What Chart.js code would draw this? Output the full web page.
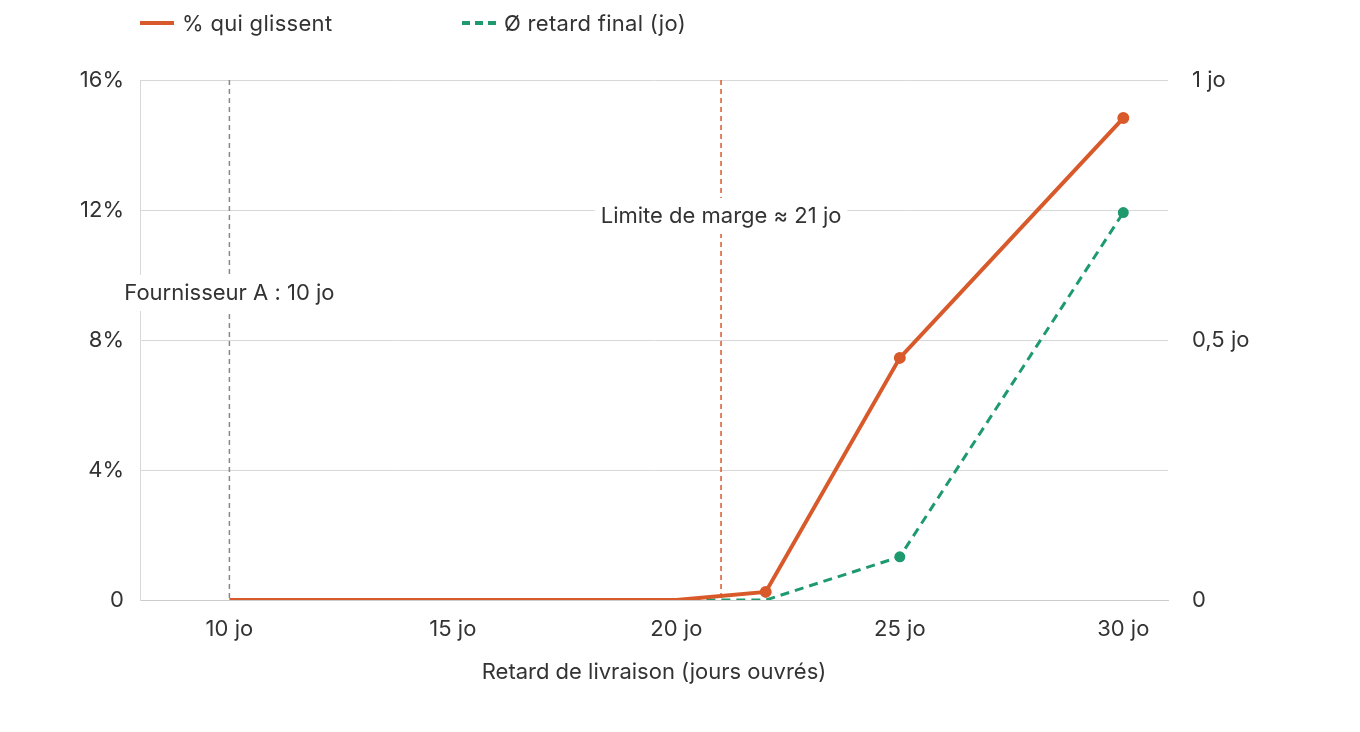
<!DOCTYPE html>
<html><head><meta charset="utf-8">
<script src="https://cdn.jsdelivr.net/npm/chart.js"></script>
<style>
body{margin:0;background:#fff;font-family:Inter,"Noto Sans",sans-serif;}
#wrap{position:absolute;left:0;top:0;width:1360px;height:732px;}
.lg{position:absolute;top:10px;font-size:22px;color:#333;display:flex;align-items:center;letter-spacing:0.3px;}
.lg span.l{display:inline-block;width:34px;height:0;margin-right:8px;}
</style></head><body>
<div id="wrap"><canvas id="c" width="1360" height="732"></canvas></div>
<div class="lg" style="left:140px"><span class="l" style="border-top:4px solid #d85a2b"></span>% qui glissent</div>
<div class="lg" style="left:462px"><span class="l" style="border-top:4px dashed #1e9a6e"></span>Ø retard final (jo)</div>
<script>
const xDays=[10,20,22,25,30];
const pctSlip=[0,0,0.25,7.45,14.83];
const xDaysDelay=[20,22,25,30];
const finalDelay=[0,0,0.083,0.745];
const leftTicks=[0,4,8,12,16];
const rightTicks=[0,0.5,1];
const vlines=[{x:10,label:'Fournisseur A : 10 jo',color:'#888',ly:293},{x:21,label:'Limite de marge ≈ 21 jo',color:'#d85a2b',ly:216}];
const FONT="Inter, 'Noto Sans', sans-serif";
const FS=22;
const vplug={id:'v',beforeDatasetsDraw(ch){const c=ch.ctx,xs=ch.scales.x,a=ch.chartArea;
 vlines.forEach(v=>{const px=xs.getPixelForValue(v.x);c.save();c.strokeStyle=v.color;c.lineWidth=1.5;c.setLineDash([5,4]);
 c.beginPath();c.moveTo(px,a.top);c.lineTo(px,a.bottom);c.stroke();c.setLineDash([]);
 c.font=FS+'px '+FONT;const w=c.measureText(v.label).width;c.fillStyle='#fff';c.fillRect(px-w/2-6,v.ly-18,w+12,36);
 c.fillStyle='#333';c.textAlign='center';c.textBaseline='middle';c.fillText(v.label,px,v.ly);c.restore();});}};
new Chart(document.getElementById('c'),{type:'line',
data:{datasets:[
{data:xDays.map((x,i)=>({x,y:pctSlip[i]})),borderColor:'#d85a2b',backgroundColor:'#d85a2b',borderWidth:4,pointRadius:[0,0,4,4,4],yAxisID:'y',order:1},
{data:xDaysDelay.map((x,i)=>({x,y:finalDelay[i]})),borderColor:'#1e9a6e',backgroundColor:'#1e9a6e',borderWidth:3,borderDash:[9,6],pointRadius:[0,0,4,4],yAxisID:'y2',order:2}]},
options:{responsive:false,animation:false,layout:{padding:{left:0,right:0,top:80,bottom:42}},
plugins:{legend:{display:false},tooltip:{enabled:false}},
scales:{
x:{type:'linear',min:8,max:31,afterBuildTicks(s){s.ticks=[10,15,20,25,30].map(v=>({value:v}));},
 ticks:{callback:v=>v+' jo',color:'#333',font:{size:FS,family:FONT},padding:8},
 grid:{display:false},border:{color:'#ccc'},
 title:{display:true,text:'Retard de livraison (jours ouvrés)',color:'#333',font:{size:FS,family:FONT},padding:{top:12}},
 afterFit(s){s.height=90;}},
y:{position:'left',min:0,max:16,afterBuildTicks(s){s.ticks=leftTicks.map(v=>({value:v}));},
 ticks:{callback:v=>v===0?'0':v+'%',color:'#333',font:{size:FS,family:FONT},padding:16},
 grid:{color:'#d8d8d8',drawTicks:false},border:{display:true,color:'#d8d8d8'},afterFit(s){s.width=140;}},
y2:{position:'right',min:0,max:1,afterBuildTicks(s){s.ticks=rightTicks.map(v=>({value:v}));},
 ticks:{callback:v=>v===0?'0':String(v).replace('.',',')+' jo',color:'#333',font:{size:FS,family:FONT},padding:16},
 grid:{display:false},border:{display:false},afterFit(s){s.width=192;}}}},
plugins:[vplug]});
</script></body></html>
